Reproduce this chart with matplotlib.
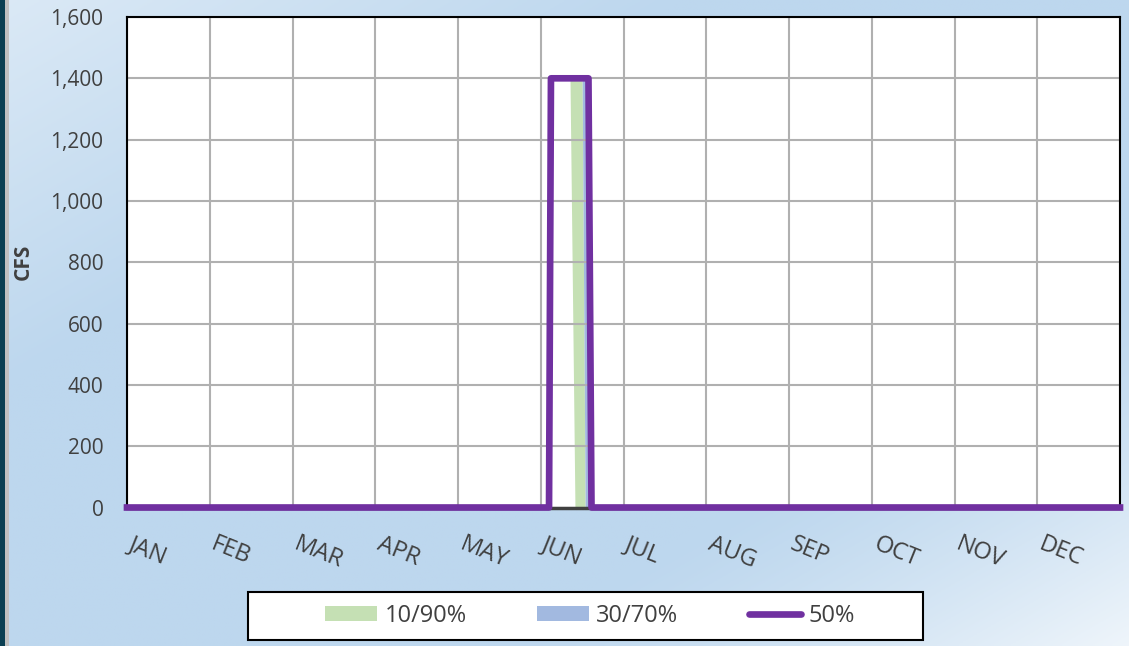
import numpy as np
import matplotlib.pyplot as plt
import matplotlib.transforms as mtransforms
from matplotlib.patches import Patch, Rectangle
from matplotlib.lines import Line2D

plt.rcParams['font.family'] = ['Open Sans', 'DejaVu Sans']

# x in "days" on an axis of 12 equal 30-day months
months = ['JAN', 'FEB', 'MAR', 'APR', 'MAY', 'JUN', 'JUL', 'AUG', 'SEP', 'OCT', 'NOV', 'DEC']
month_start = [0, 30, 60, 90, 120, 150, 180, 210, 240, 270, 300, 330]

# 50% exceedance line
day_50 = [0, 153.0, 153.7, 167.3, 168.4, 360]
cfs_50 = [0, 0, 1400, 1400, 0, 0]

# 10/90% band (edges only, zero elsewhere)
day_1090 = [160.6, 162.4, 165.0, 166.1]
lo_1090 = [1400, 0, 0, 0]
hi_1090 = [1400, 1400, 1400, 0]

# 30/70% band
day_3070 = [165.0, 166.1, 166.4, 167.5]
lo_3070 = [1400, 0, 0, 0]
hi_3070 = [1400, 1400, 1400, 0]

W, H = 1129, 646
fig = plt.figure(figsize=(W / 100, H / 100), dpi=100)

# light blue gradient background
bg = fig.add_axes([0, 0, 1, 1], zorder=-10)
u, v = np.meshgrid(np.linspace(0, 1, 400), np.linspace(0, 1, 240))
d = (u + v) / 2
w = 0.45 * np.clip(1 - d / 0.3, 0, 1) + 0.75 * np.clip((d - 0.72) / 0.28, 0, 1) ** 1.3
base = np.array([189, 215, 238]) / 255
img = base[None, None, :] * (1 - w[..., None]) + w[..., None]
bg.imshow(img, aspect='auto', extent=[0, 1, 0, 1], origin='upper')
bg.axis('off')
fig.add_artist(Rectangle((0, 0), 4.5 / W, 1, transform=fig.transFigure, fc='#0b3f52', ec='none'))
fig.add_artist(Rectangle((4.5 / W, 0), 4 / W, 1, transform=fig.transFigure, fc='#c0c0c0', ec='none'))

ax = fig.add_axes([127 / W, (H - 507.5) / H, 993 / W, (507.5 - 17) / H])
ax.set_facecolor('white')

ax.fill_between(day_1090, lo_1090, hi_1090, color='#c5e0b4', lw=0)
ax.fill_between(day_3070, lo_3070, hi_3070, color='#a2b9e0', lw=0)
ax.plot(day_50, cfs_50, color='#7030a0', lw=4.8, solid_joinstyle='round', clip_on=False, zorder=3)

ax.set_xlim(0, 360)
ax.set_ylim(0, 1600)
ax.set_yticks(range(0, 1601, 200))
ax.set_yticklabels([f'{v:,}' for v in range(0, 1601, 200)])
ax.set_xticks(month_start + [360])
ax.set_xticklabels(months + [''], rotation=-22, ha='left', va='top', rotation_mode='anchor')
ax.tick_params(length=0, labelcolor='#404040')
ax.tick_params(axis='x', pad=18, labelsize=17)
ax.tick_params(axis='y', pad=17, labelsize=15)
shift = mtransforms.ScaledTranslation(7 / 100, 0, fig.dpi_scale_trans)
for lab in ax.get_xticklabels():
    lab.set_transform(lab.get_transform() + shift)
ax.set_axisbelow('line')
ax.grid(True, color='#b0b0b0', lw=1.5)

for s in ['left', 'top', 'right']:
    ax.spines[s].set_color('black')
    ax.spines[s].set_linewidth(1.5)
ax.spines['bottom'].set_color('#404040')
ax.spines['bottom'].set_linewidth(2.5)

ax.set_ylabel('CFS', fontsize=15, fontweight='bold', color='#404040', labelpad=12)

# legend box
fig.add_artist(Rectangle((248 / W, 6 / H), 675 / W, 48 / H, transform=fig.transFigure,
                         fc='white', ec='black', lw=1.5))
handles = [Patch(facecolor='#c5e0b4', edgecolor='none'),
           Patch(facecolor='#a2b9e0', edgecolor='none'),
           Line2D([], [], color='#7030a0', lw=4.8, solid_capstyle='round')]
fig.legend(handles, ['10/90%', '30/70%', '50%'], loc='center',
           bbox_to_anchor=(590 / W, 1 - 616 / H), ncol=3, frameon=False,
           fontsize=17, labelcolor='#404040', handlelength=2.2, handleheight=0.6,
           handletextpad=0.3, columnspacing=3.0)

fig.savefig('out.png', dpi=100)
